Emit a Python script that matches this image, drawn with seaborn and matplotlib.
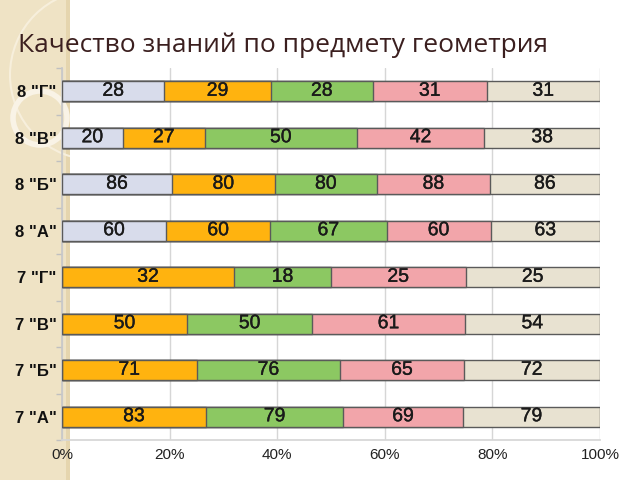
import numpy as np
import pandas as pd
import matplotlib
matplotlib.use("Agg")
import matplotlib.pyplot as plt
import matplotlib.patheffects as pe
import seaborn as sns
from matplotlib.patches import Rectangle, Circle

classes = ['8 "Г"', '8 "В"', '8 "Б"', '8 "А"', '7 "Г"', '7 "В"', '7 "Б"', '7 "А"']
s1 = [28, 20, 86, 60, 0, 0, 0, 0]
s2 = [29, 27, 80, 60, 32, 50, 71, 83]
s3 = [28, 50, 80, 67, 18, 50, 76, 79]
s4 = [31, 42, 88, 60, 25, 61, 65, 69]
s5 = [31, 38, 86, 63, 25, 54, 72, 79]
xticks = [0, 20, 40, 60, 80, 100]
xticklabels = ["0%", "20%", "40%", "60%", "80%", "100%"]
title = "Качество знаний по предмету геометрия"

series = [s1, s2, s3, s4, s5]
colors = ["#d8dceb", "#ffb30f", "#8cc862", "#f2a5aa", "#e8e2d1"]

vals = np.array(series, dtype=float)
totals = vals.sum(axis=0)
pct = vals / totals * 100
cum = np.cumsum(pct, axis=0)

sns.set_theme(style="white")
plt.rcParams['font.family'] = ['Liberation Sans', 'DejaVu Sans']

fig = plt.figure(figsize=(6.4, 4.8), dpi=100)
fig.patch.set_facecolor("white")

# left decorative stripe (behind everything)
bg = fig.add_axes([0, 0, 1, 1], zorder=-10)
bg.set_xlim(0, 640)
bg.set_ylim(480, 0)
bg.axis("off")
stripe = Rectangle((0, 0), 70, 480, facecolor="#efe3c5", edgecolor="none")
bg.add_patch(stripe)
bg.add_patch(Rectangle((66, 0), 4, 480, facecolor="#e5d5ae", edgecolor="none"))
big = Circle((95, 75), 85, facecolor="none", edgecolor="#f7efdc", lw=1.5)
bg.add_patch(big)
big.set_clip_path(stripe)
ring = Circle((40, 118), 27, facecolor="none", edgecolor="#f9f3e6", lw=4)
bg.add_patch(ring)
ring.set_clip_path(stripe)

ax = fig.add_axes([62/640, 40/480, 538/640, 372/480], zorder=1)
ax.set_facecolor("none")

df = pd.DataFrame({"cls": classes})
for i in range(len(series) - 1, -1, -1):
    df["v"] = cum[i]
    sns.barplot(data=df, x="v", y="cls", orient="h", order=classes,
                color=colors[i], saturation=1, width=0.42,
                edgecolor="#5a5a5a", linewidth=1.0, ax=ax, zorder=3)

stroke = [pe.withStroke(linewidth=0.25, foreground="#1a1a1a")]
for i in range(len(series)):
    for j in range(len(classes)):
        if vals[i, j] > 0:
            left = cum[i, j] - pct[i, j]
            ax.text(left + pct[i, j] / 2, j, f"{int(vals[i, j])}",
                    ha="center", va="center", fontsize=14,
                    color="#1a1a1a", zorder=5, path_effects=stroke)

ax.set_xlim(0, 100)
ax.set_ylim(len(classes) - 0.5, -0.5)
ax.set_xticks(xticks)
ax.set_xticklabels(xticklabels, fontsize=11, color="#222222")
ax.set_yticks(range(len(classes)))
ax.set_yticklabels(classes, fontsize=12, fontweight="bold", color="#111111")
ax.set_xlabel("")
ax.set_ylabel("")
ax.grid(axis="x", color="#d6d6d6", linewidth=1, zorder=0)
ax.set_axisbelow(True)
for side in ["top", "right"]:
    ax.spines[side].set_visible(False)
ax.spines["left"].set_color("#c8c8c8")
ax.spines["bottom"].set_color("#d6d6d6")
ax.tick_params(axis="x", length=0, pad=6)
ax.tick_params(axis="y", length=0, pad=4)
ax.set_yticks(np.arange(-0.5, len(classes), 1), minor=True)
ax.tick_params(axis="y", which="minor", length=4, color="#c0c0c0", left=True)

fig.text(18/640, 1 - 45/480, title, fontsize=19, color="#3b1f1f",
         family=["Open Sans", "DejaVu Sans"], va="center", ha="left", zorder=5)

fig.savefig("out.png", dpi=100, facecolor=fig.get_facecolor())
